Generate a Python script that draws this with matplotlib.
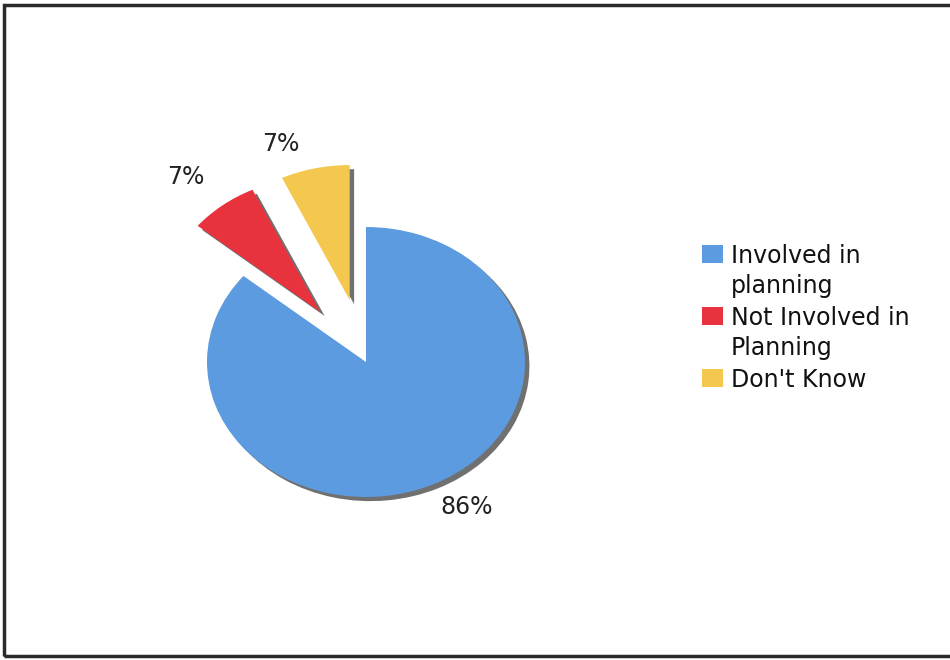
import numpy as np
import matplotlib
matplotlib.use("Agg")
import matplotlib.pyplot as plt
from matplotlib.patches import Rectangle

# Survey shares
categories = ["Involved in\nplanning", "Not Involved in\nPlanning", "Don't Know"]
shares = [86, 7, 7]
colors = ["#5c9be0", "#e8333f", "#f4c84f"]
explode = [0.0, 0.47, 0.47]

W, H = 950, 660
fig = plt.figure(figsize=(W / 100, H / 100), dpi=100)
fig.patch.set_facecolor("white")

# pie centre / radii in pixels (elliptical pie)
cx, cy, rx, ry = 366, 362, 159, 135
L = 1.8
ax = fig.add_axes([(cx - L * rx) / W, (H - (cy + L * ry)) / H,
                   2 * L * rx / W, 2 * L * ry / H])

wedges, _ = ax.pie(shares, colors=colors, explode=explode, startangle=90,
                   counterclock=False,
                   shadow={"ox": 0.02, "oy": -0.022, "facecolor": "#707070",
                           "edgecolor": "none", "alpha": 1.0},
                   wedgeprops={"linewidth": 0})
ax.set_aspect("auto")
ax.set_xlim(-L, L)
ax.set_ylim(-L, L)

# percentage labels placed around each wedge
label_r = [1.245, 1.31, 1.235]
label_dtheta = [5.2, 2.4, 7.9]
for w, val, e, r, dt in zip(wedges, shares, explode, label_r, label_dtheta):
    mid = np.deg2rad((w.theta1 + w.theta2) / 2)
    ox, oy = e * np.cos(mid), e * np.sin(mid)
    m2 = mid + np.deg2rad(dt)
    ax.text(ox + r * np.cos(m2), oy + r * np.sin(m2), f"{val}%",
            ha="center", va="center", fontsize=17, color="#222222",
            family="DejaVu Sans")

# legend drawn line by line
lx_box, lx_text = 702, 731
base0, entry_step, line_step = 263, 62, 30
for i, (lab, col) in enumerate(zip(categories, colors)):
    b = base0 + i * entry_step
    fig.patches.append(Rectangle(((lx_box) / W, (H - b) / H), 21 / W, 18 / H,
                                 transform=fig.transFigure, facecolor=col,
                                 edgecolor="none"))
    for j, line in enumerate(lab.split("\n")):
        fig.text(lx_text / W, (H - (b + j * line_step)) / H, line,
                 ha="left", va="baseline", fontsize=17, color="#111111",
                 family="DejaVu Sans")

# outer frame
fig.patches.append(Rectangle((4 / W, 4 / H), 960 / W, 651 / H,
                             transform=fig.transFigure, facecolor="none",
                             edgecolor="#2b2b2b", linewidth=2.5))

fig.savefig("out.png", dpi=100, facecolor="white")
